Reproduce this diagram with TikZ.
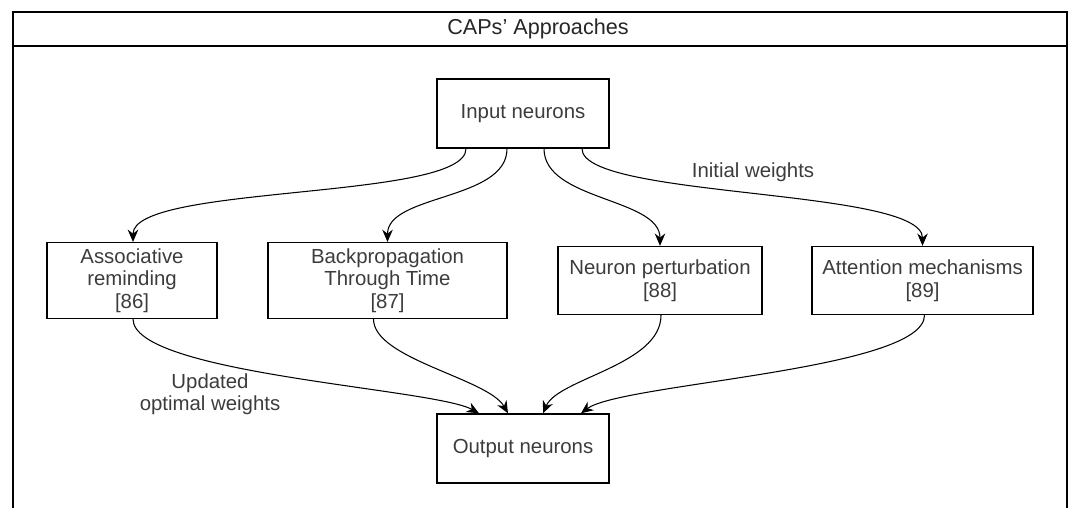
\documentclass[tikz,border=0pt]{standalone}
\usepackage{fontspec}
\setmainfont{Liberation Sans}
\usetikzlibrary{arrows.meta}
\usetikzlibrary{calc}
\definecolor{schrift}{RGB}{60,60,60}

\begin{document}
\begin{tikzpicture}[x=0.02cm,y=-0.02cm,
	kasten/.style={draw,thick,minimum height=1.36cm,align=center,text=schrift,font=\fontsize{11.6}{12.8}\selectfont},
	pfeil/.style={semithick,-{Stealth[length=7pt,width=6pt]}},
	beschr/.style={text=schrift,align=center,font=\fontsize{11.6}{12.8}\selectfont}] % Rahmen oben offen nach unten
	\useasboundingbox (0,0) rectangle (1071,508);
	\draw[thick] (13,508) -- (13,12) -- (1067,12) -- (1067,508);
	\draw[thick] (13,46) -- (1067,46);
	\node[beschr,text=black!85,font=\fontsize{12.3}{14}\selectfont] (T) at (538,29) {CAPs' Approaches};
	\node[kasten,minimum width=3.44cm,minimum height=1.38cm] (In) at (523,113.5) {Input neurons};
	\node[kasten,minimum width=3.4cm] (M1) at (132,280.5) {Associative\\reminding\\{}[86]};
	\node[kasten,minimum width=4.78cm] (M2) at (387.5,280.5) {Backpropagation\\Through Time\\{}[87]};
	\node[kasten,minimum width=4.08cm] (M3) at (660,280.5) {Neuron perturbation\\{}[88]};
	\node[kasten,minimum width=4.42cm] (M4) at (922.5,280.5) {Attention mechanisms\\{}[89]};
	\node[kasten,minimum width=3.44cm,minimum height=1.38cm] (Out) at (523,448.5) {Output neurons};
	
	\draw[pfeil] ($(In.south)+(-57,0)$) .. controls +(0,52) and +(0,-58) .. ($(M1.north)+(1,0)$);
	\draw[pfeil] ($(In.south)+(-16,0)$) .. controls +(0,52) and +(0,-48) .. (M2.north);
	\draw[pfeil] ($(In.south)+(21,0)$) .. controls +(0,52) and +(0,-48) .. (M3.north);
	\draw[pfeil] ($(In.south)+(59,0)$) .. controls +(0,50) and +(0,-58) .. (M4.north);
	\node[beschr] (L1) at (753,172) {Initial weights};
	
	\draw[pfeil] ($(M1.south)+(1,0)$) .. controls +(0,55) and +(-45,-25) .. ($(Out.north)+(-44,0)$);
	\draw[pfeil] ($(M2.south)+(-14,0)$) .. controls +(0,40) and +(-20,-35) .. ($(Out.north)+(-15,0)$);
	\draw[pfeil] ($(M3.south)+(1,0)$) .. controls +(0,50) and +(15,-35) .. ($(Out.north)+(20,0)$);
	\draw[pfeil] ($(M4.south)+(2,0)$) .. controls +(0,55) and +(40,-30) .. ($(Out.north)+(58,0)$);
	\node[beschr] (L2) at (210,394) {Updated\\optimal weights};
\end{tikzpicture}
\end{document}
